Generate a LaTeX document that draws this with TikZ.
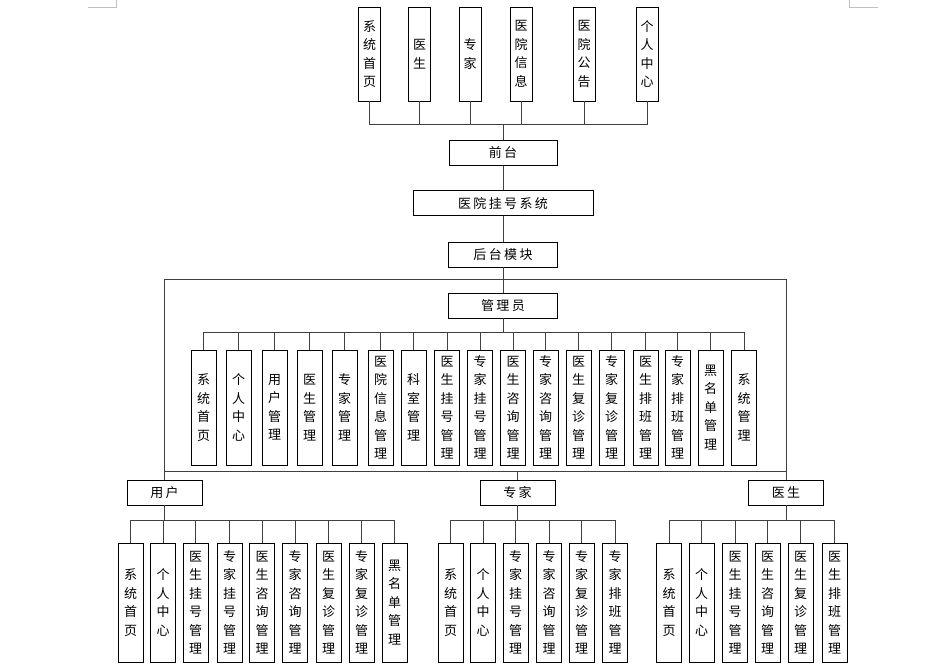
\documentclass[tikz,border=0pt]{standalone}
\usepackage{fontspec}
\newfontfamily\cjk{Noto Sans CJK SC}
\newfontfamily\cjkh[LetterSpace=18]{Noto Sans CJK SC}
\begin{document}
\begin{tikzpicture}[x=1pt,y=-1pt,
  cbox/.style={draw=black, line width=0.9pt, inner sep=0pt, fill=white},
  vbox/.style={cbox, minimum width=25pt, align=center, font=\cjk\fontsize{13}{18.5}\selectfont},
  topbox/.style={vbox, minimum width=22pt, minimum height=94pt},
  admbox/.style={vbox, minimum height=115pt},
  subbox/.style={vbox, minimum height=119pt},
  hbox/.style={cbox, minimum height=25pt, font=\cjkh\fontsize{13}{15}\selectfont},
  link/.style={draw=black!75, line width=0.8pt},
  cornermark/.style={draw=black!25, line width=0.6pt}]
\useasboundingbox (0,0) rectangle (945,670);
% page corner marks
\coordinate (m1) at (88,7); \coordinate (m2) at (116,7); \coordinate (m3) at (116,0);
\coordinate (m4) at (849,0); \coordinate (m5) at (849,7); \coordinate (m6) at (878,7);
\draw[cornermark] (m1) -- (m2) -- (m3);
\draw[cornermark] (m4) -- (m5) -- (m6);

% top boxes
\node[topbox] (t1) at (369.5,54) {系\\统\\首\\页};
\node[topbox] (t2) at (419.5,54) {医\\生};
\node[topbox] (t3) at (470,54) {专\\家};
\node[topbox] (t4) at (521,54) {医\\院\\信\\息};
\node[topbox] (t5) at (584,54) {医\\院\\公\\告};
\node[topbox] (t6) at (647,54) {个\\人\\中\\心};

\node[hbox, minimum width=108pt] (qt) at (503,153) {前台};
\node[hbox, minimum width=180pt] (sys) at (503,203) {医院挂号系统};
\node[hbox, minimum width=109pt] (ht) at (503,254.5) {后台模块};
\node[hbox, minimum width=109pt] (adm) at (503,305.5) {管理员};

\foreach \n in {t1,t2,t3,t4,t5,t6}
  \draw[link] (\n.south) -- ++(0,23) -| (qt.north);
\draw[link] (qt.south) -- (sys.north);
\draw[link] (sys.south) -- (ht.north);
\draw[link] (ht.south) -- (adm.north);

% admin children
\node[admbox] (a1) at (203.5,407.5) {系\\统\\首\\页};
\node[admbox] (a2) at (238.5,407.5) {个\\人\\中\\心};
\node[admbox] (a3) at (274.5,407.5) {用\\户\\管\\理};
\node[admbox] (a4) at (309.5,407.5) {医\\生\\管\\理};
\node[admbox] (a5) at (344.5,407.5) {专\\家\\管\\理};
\node[admbox] (a6) at (380.5,407.5) {医\\院\\信\\息\\管\\理};
\node[admbox] (a7) at (413.5,407.5) {科\\室\\管\\理};
\node[admbox] (a8) at (447,407.5) {医\\生\\挂\\号\\管\\理};
\node[admbox] (a9) at (480,407.5) {专\\家\\挂\\号\\管\\理};
\node[admbox] (a10) at (513,407.5) {医\\生\\咨\\询\\管\\理};
\node[admbox] (a11) at (545.5,407.5) {专\\家\\咨\\询\\管\\理};
\node[admbox] (a12) at (578.5,407.5) {医\\生\\复\\诊\\管\\理};
\node[admbox] (a13) at (611.5,407.5) {专\\家\\复\\诊\\管\\理};
\node[admbox] (a14) at (645.5,407.5) {医\\生\\排\\班\\管\\理};
\node[admbox] (a15) at (677.5,407.5) {专\\家\\排\\班\\管\\理};
\node[admbox] (a16) at (710.5,407.5) {黑\\名\\单\\管\\理};
\node[admbox] (a17) at (744,407.5) {系\\统\\管\\理};
\foreach \n in {a1,a2,a3,a4,a5,a6,a7,a8,a9,a10,a11,a12,a13,a14,a15,a16,a17}
  \draw[link] (adm.south) -- ++(0,14) -| (\n.north);

% role boxes
\node[hbox, minimum width=75pt] (yh) at (164.5,492.5) {用户};
\node[hbox, minimum width=75pt] (zj) at (517.5,492.5) {专家};
\node[hbox, minimum width=75pt] (ys) at (786,492.5) {医生};

% frame and bus
\coordinate (fl) at (164.5,279);
\coordinate (fr) at (786,279);
\coordinate (bl) at (164.5,471);
\coordinate (br) at (786,471);
\coordinate (bm) at (517.5,471);
\draw[link] (yh.north) -- (fl) -- (fr) -- (ys.north);
\draw[link] (bl) -- (br);
\draw[link] (bm) -- (zj.north);

% user children
\node[subbox] (u1) at (130.5,602.5) {系\\统\\首\\页};
\node[subbox] (u2) at (163,602.5) {个\\人\\中\\心};
\node[subbox] (u3) at (195.5,602.5) {医\\生\\挂\\号\\管\\理};
\node[subbox] (u4) at (229.5,602.5) {专\\家\\挂\\号\\管\\理};
\node[subbox] (u5) at (262,602.5) {医\\生\\咨\\询\\管\\理};
\node[subbox] (u6) at (295,602.5) {专\\家\\咨\\询\\管\\理};
\node[subbox] (u7) at (328.5,602.5) {医\\生\\复\\诊\\管\\理};
\node[subbox] (u8) at (361.5,602.5) {专\\家\\复\\诊\\管\\理};
\node[subbox] (u9) at (394.5,602.5) {黑\\名\\单\\管\\理};
\foreach \n in {u1,u2,u3,u4,u5,u6,u7,u8,u9}
  \draw[link] (yh.south) -- ++(0,15) -| (\n.north);

% expert children
\node[subbox] (e1) at (450.5,602.5) {系\\统\\首\\页};
\node[subbox] (e2) at (483,602.5) {个\\人\\中\\心};
\node[subbox] (e3) at (515.5,602.5) {专\\家\\挂\\号\\管\\理};
\node[subbox] (e4) at (549,602.5) {专\\家\\咨\\询\\管\\理};
\node[subbox] (e5) at (581.5,602.5) {专\\家\\复\\诊\\管\\理};
\node[subbox] (e6) at (615,602.5) {专\\家\\排\\班\\管\\理};
\foreach \n in {e1,e2,e3,e4,e5,e6}
  \draw[link] (zj.south) -- ++(0,15) -| (\n.north);

% doctor children
\node[subbox] (d1) at (669,602.5) {系\\统\\首\\页};
\node[subbox] (d2) at (701.5,602.5) {个\\人\\中\\心};
\node[subbox] (d3) at (735,602.5) {医\\生\\挂\\号\\管\\理};
\node[subbox] (d4) at (767.5,602.5) {医\\生\\咨\\询\\管\\理};
\node[subbox] (d5) at (800.5,602.5) {医\\生\\复\\诊\\管\\理};
\node[subbox] (d6) at (834.5,602.5) {医\\生\\排\\班\\管\\理};
\foreach \n in {d1,d2,d3,d4,d5,d6}
  \draw[link] (ys.south) -- ++(0,15) -| (\n.north);
\end{tikzpicture}
\end{document}
